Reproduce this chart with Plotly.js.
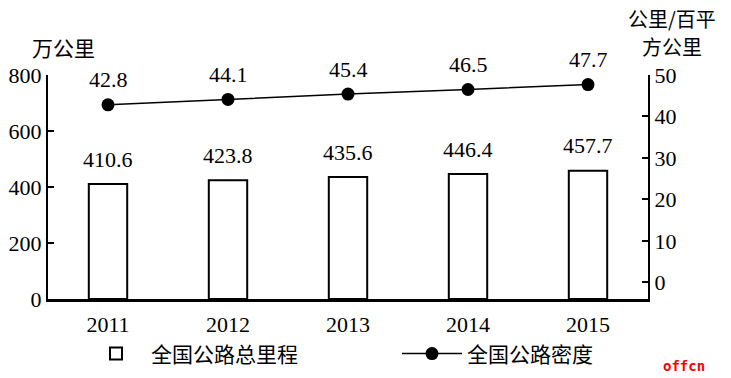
<!DOCTYPE html>
<html>
<head>
<meta charset="utf-8">
<script src="https://cdn.plot.ly/plotly-3.0.1.min.js"></script>
<style>html,body{margin:0;padding:0;background:#fff;}#chart{width:731px;height:378px;}</style>
</head>
<body>
<div id="chart"></div>
<script>
const years = ['2011', '2012', '2013', '2014', '2015'];
const mileage = [410.6, 423.8, 435.6, 446.4, 457.7];
const density = [42.8, 44.1, 45.4, 46.5, 47.7];
const leftTicks = [0, 200, 400, 600, 800];
const rightTicks = [0, 10, 20, 30, 40, 50];

const serif = 'Liberation Serif, Times New Roman, serif';
const cjk = 'Noto Sans CJK SC, sans-serif';

const traces = [
  {
    type: 'bar', name: '全国公路总里程', x: years, y: mileage,
    width: 0.32, legendwidth: 241,
    marker: {color: '#ffffff', line: {color: '#000000', width: 2}},
    yaxis: 'y', hoverinfo: 'skip'
  },
  {
    type: 'scatter', mode: 'lines+markers', name: '全国公路密度', x: years, y: density,
    line: {color: '#000000', width: 1.5},
    marker: {color: '#000000', size: 13},
    yaxis: 'y2', hoverinfo: 'skip', cliponaxis: false
  }
];

const annotations = [];
years.forEach((yr, i) => {
  annotations.push({x: i, y: mileage[i], xref: 'x', yref: 'y', text: mileage[i].toFixed(1),
    showarrow: false, yshift: 25, font: {family: serif, size: 22, color: '#000'}});
  annotations.push({x: i, y: density[i], xref: 'x', yref: 'y2', text: density[i].toFixed(1),
    showarrow: false, yshift: 25, font: {family: serif, size: 22, color: '#000'}});
});
annotations.push({xref: 'paper', yref: 'paper', x: 0.025, y: 1.125, text: '万公里', showarrow: false,
  xanchor: 'center', yanchor: 'middle', font: {family: cjk, size: 21, color: '#000'}});
annotations.push({xref: 'paper', yref: 'paper', x: 1.04, y: 1.252, text: '公里/百平', showarrow: false,
  xanchor: 'center', yanchor: 'middle', font: {family: cjk, size: 20, color: '#000'}});
annotations.push({xref: 'paper', yref: 'paper', x: 1.04, y: 1.128, text: '方公里', showarrow: false,
  xanchor: 'center', yanchor: 'middle', font: {family: cjk, size: 20, color: '#000'}});
annotations.push({xref: 'paper', yref: 'paper', x: 1.06, y: -0.3, text: '<b>offcn</b>', showarrow: false,
  xanchor: 'center', yanchor: 'middle', font: {family: 'DejaVu Sans Mono, monospace', size: 14, color: '#ff0000'}});

const layout = {
  width: 731, height: 378,
  margin: {l: 48, r: 83, t: 75, b: 79, autoexpand: false},
  paper_bgcolor: '#ffffff', plot_bgcolor: '#ffffff',
  showlegend: true,
  legend: {orientation: 'h', x: 0.055, xanchor: 'left', y: -0.245, yanchor: 'middle',
    font: {family: cjk, size: 21, color: '#000'}, itemwidth: 60,
    bgcolor: 'rgba(0,0,0,0)'},
  xaxis: {type: 'category', range: [-0.5, 4.5], showgrid: false, zeroline: false,
    showline: true, linecolor: '#000', linewidth: 2.5, ticks: '', ticklabelstandoff: 4,
    tickfont: {family: serif, size: 22, color: '#000'}, fixedrange: true},
  yaxis: {range: [0, 800], tickvals: leftTicks, showgrid: false, zeroline: false,
    showline: true, linecolor: '#000', linewidth: 2, ticks: 'inside', ticklen: 6, tickwidth: 2, tickcolor: '#000',
    tickfont: {family: serif, size: 22, color: '#000'}, fixedrange: true},
  yaxis2: {range: [-4, 50], tickvals: rightTicks, overlaying: 'y', side: 'right', showgrid: false, zeroline: false,
    showline: true, linecolor: '#000', linewidth: 2, ticks: 'inside', ticklen: 6, tickwidth: 2, tickcolor: '#000',
    tickfont: {family: serif, size: 22, color: '#000'}, fixedrange: true},
  annotations: annotations
};

Plotly.newPlot('chart', traces, layout, {staticPlot: true, displayModeBar: false});
</script>
</body>
</html>
